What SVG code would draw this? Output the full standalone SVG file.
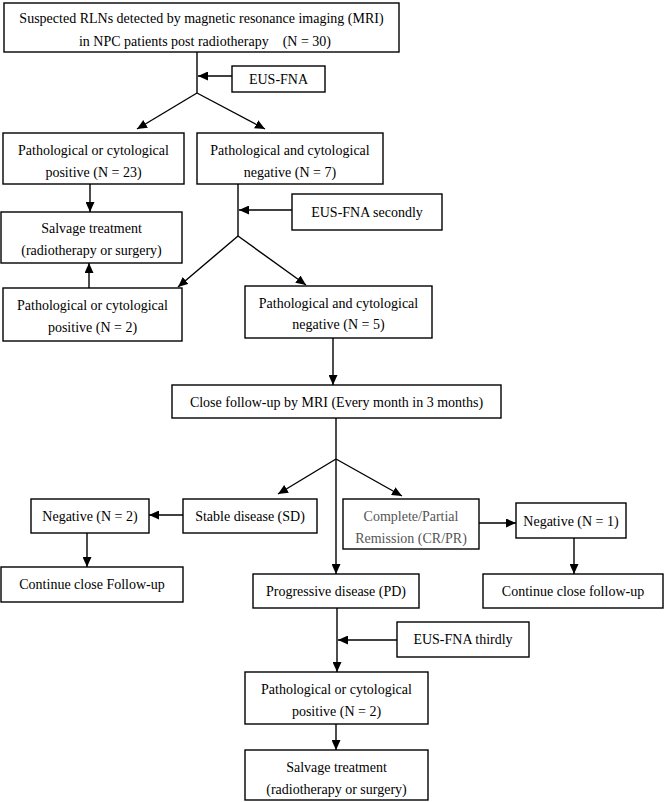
<svg xmlns="http://www.w3.org/2000/svg" width="664" height="802" viewBox="0 0 664 802">
<defs>
<style>
.box{fill:#fff;stroke:#000;stroke-width:1.4}
.t{font-family:"Liberation Serif","Times New Roman",serif;font-size:14px;fill:#000;text-anchor:middle}
.g{fill:#555}
.c{stroke:#000;stroke-width:1.4;fill:none}
</style>
<marker id="ah" markerUnits="userSpaceOnUse" markerWidth="11" markerHeight="9" refX="10" refY="4.5" orient="auto">
<path d="M0,0 L10,4.5 L0,9 z" fill="#000"/>
</marker>
</defs>
<rect width="664" height="802" fill="#fff"/>
<g id="connectors">
<path class="c" d="M197,52 V93"/>
<path class="c" d="M197,93 L137,129" marker-end="url(#ah)"/>
<path class="c" d="M197,93 L265,129" marker-end="url(#ah)"/>
<path class="c" d="M232,76 H198" marker-end="url(#ah)"/>
<path class="c" d="M90,184 V212" marker-end="url(#ah)"/>
<path class="c" d="M238,184 V236"/>
<path class="c" d="M238,236 L178,287" marker-end="url(#ah)"/>
<path class="c" d="M238,236 L306,285" marker-end="url(#ah)"/>
<path class="c" d="M292,210 H239" marker-end="url(#ah)"/>
<path class="c" d="M89,288 V263" marker-end="url(#ah)"/>
<path class="c" d="M333,338 V385" marker-end="url(#ah)"/>
<path class="c" d="M336,418 V459"/>
<path class="c" d="M336,459 L278,494" marker-end="url(#ah)"/>
<path class="c" d="M336,459 L402,496" marker-end="url(#ah)"/>
<path class="c" d="M336,459 V574" marker-end="url(#ah)"/>
<path class="c" d="M183,515 H149" marker-end="url(#ah)"/>
<path class="c" d="M87,533 V567" marker-end="url(#ah)"/>
<path class="c" d="M479,523 H516" marker-end="url(#ah)"/>
<path class="c" d="M574,538 V574" marker-end="url(#ah)"/>
<path class="c" d="M337,608 V672" marker-end="url(#ah)"/>
<path class="c" d="M397,640 H338" marker-end="url(#ah)"/>
<path class="c" d="M336,724 V750" marker-end="url(#ah)"/>
</g>
<g id="n_top"><rect class="box" x="4" y="3" width="395" height="49"/>
<text class="t" x="201.5" y="23">Suspected RLNs detected by magnetic resonance imaging (MRI)</text>
<text class="t" x="205" y="46" style="white-space:pre">in NPC patients post radiotherapy    (N = 30)</text></g>
<g id="n_eus1"><rect class="box" x="232" y="66" width="93" height="26"/><text class="t" x="278.5" y="84">EUS-FNA</text></g>
<g id="n_pos23"><rect class="box" x="3" y="133" width="181" height="51"/><text class="t" x="93.5" y="155">Pathological or cytological</text><text class="t" x="93.5" y="177">positive (N = 23)</text></g>
<g id="n_neg7"><rect class="box" x="197" y="133" width="186" height="51"/><text class="t" x="290" y="155">Pathological and cytological</text><text class="t" x="290" y="177">negative (N = 7)</text></g>
<g id="n_salv1"><rect class="box" x="1" y="212" width="181" height="51"/><text class="t" x="91.5" y="233">Salvage treatment</text><text class="t" x="91.5" y="255">(radiotherapy or surgery)</text></g>
<g id="n_eus2"><rect class="box" x="292" y="194" width="150" height="36"/><text class="t" x="367" y="217">EUS-FNA secondly</text></g>
<g id="n_pos2"><rect class="box" x="3" y="288" width="179" height="53"/><text class="t" x="92.5" y="310">Pathological or cytological</text><text class="t" x="92.5" y="332">positive (N = 2)</text></g>
<g id="n_neg5"><rect class="box" x="245" y="286" width="187" height="52"/><text class="t" x="338.5" y="308">Pathological and cytological</text><text class="t" x="338.5" y="329">negative (N = 5)</text></g>
<g id="n_follow"><rect class="box" x="172" y="385" width="329" height="33"/><text class="t" x="336.5" y="407">Close follow-up by MRI (Every month in 3 months)</text></g>
<g id="n_sd"><rect class="box" x="183" y="499" width="134" height="34"/><text class="t" x="250" y="521">Stable disease (SD)</text></g>
<g id="n_neg2"><rect class="box" x="31" y="499" width="118" height="34"/><text class="t" x="90" y="521">Negative (N = 2)</text></g>
<g id="n_cont1"><rect class="box" x="1" y="567" width="182" height="35"/><text class="t" x="92" y="589">Continue close Follow-up</text></g>
<g id="n_crpr"><rect class="box" x="343" y="499" width="136" height="50"/><text class="t g" x="411" y="521">Complete/Partial</text><text class="t g" x="411" y="543">Remission (CR/PR)</text></g>
<g id="n_neg1"><rect class="box" x="516" y="503" width="110" height="35"/><text class="t" x="571" y="526">Negative (N = 1)</text></g>
<g id="n_cont2"><rect class="box" x="483" y="574" width="180" height="34"/><text class="t" x="573" y="596">Continue close follow-up</text></g>
<g id="n_pd"><rect class="box" x="253" y="574" width="166" height="34"/><text class="t" x="336" y="596">Progressive disease (PD)</text></g>
<g id="n_eus3"><rect class="box" x="397" y="622" width="132" height="35"/><text class="t" x="463" y="644">EUS-FNA thirdly</text></g>
<g id="n_pos2b"><rect class="box" x="245" y="672" width="183" height="52"/><text class="t" x="336.5" y="694">Pathological or cytological</text><text class="t" x="336.5" y="716">positive (N = 2)</text></g>
<g id="n_salv2"><rect class="box" x="245" y="750" width="183" height="50"/><text class="t" x="336.5" y="772">Salvage treatment</text><text class="t" x="336.5" y="794">(radiotherapy or surgery)</text></g>
</svg>
